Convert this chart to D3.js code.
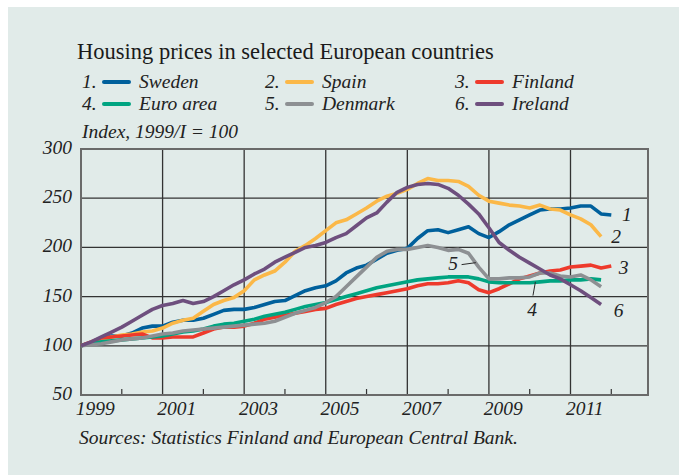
<!DOCTYPE html>
<html>
<head>
	<title> Housing prices </title>
	<script src="https://d3js.org/d3.v7.min.js"></script>
	<style>
		body { margin: 0; background: #ffffff; }
		svg text { font-family: "Liberation Serif", "DejaVu Serif", serif; fill: #222; }
	</style>
</head>
<body>
<script>

// quarterly index values, 1999/I = 100
var quartersFrom = 1999;

var sweden  = [100,103,106,110, 110,113,118,120, 120,124,126,126, 128,132,136,137, 137,139,142,145,
               146,151,156,159, 161,166,174,179, 182,188,194,197, 199,209,217,218, 215,218,221,214,
               210,216,223,228, 233,238,239,239, 240,242,242,234, 233];
var spain   = [100,103,106,109, 111,112,114,115, 118,123,126,128, 135,142,146,149, 156,167,172,176,
               185,196,202,209, 217,225,228,234, 240,247,252,255, 259,265,270,268, 268,267,262,253,
               247,245,243,242, 240,243,239,238, 233,229,223,211];
var finland = [100,104,108,109, 110,111,112,108, 108,109,109,109, 113,117,119,119, 120,123,127,129,
               131,133,135,137, 138,142,145,148, 150,152,154,156, 158,161,163,163, 164,166,164,157,
               154,158,163,168, 171,174,176,177, 180,181,182,179, 181];
var euro    = [100,102,104,105, 106,107,108,109, 110,112,114,115, 117,120,122,123, 125,127,130,132,
               134,137,140,142, 144,147,150,153, 156,159,161,163, 165,167,168,169, 170,170,170,168,
               165,164,164,164, 164,165,166,166, 167,167,168,167];
var denmark = [100,101,102,104, 106,107,108,110, 112,113,115,116, 117,118,119,120, 121,122,123,125,
               129,133,136,139, 144,150,160,170, 180,190,196,198, 198,200,202,200, 197,198,194,180,
               168,168,169,169, 170,174,174,171, 170,172,167,160];
var ireland = [100,104,109,114, 119,125,131,137, 141,143,146,143, 145,150,156,162, 167,173,178,185,
               190,195,200,202, 205,210,214,222, 230,235,246,256, 261,264,265,264, 260,253,244,234,
               220,205,197,190, 184,178,172,168, 162,156,149,142];

var names   = ["Sweden", "Spain", "Finland", "Euro area", "Denmark", "Ireland"];
var colours = ["#00609c", "#fbb848", "#ee3a2c", "#00a481", "#8d9093", "#6e4f7e"];
var series  = [sweden, spain, finland, euro, denmark, ireland];

var yTicks    = [50, 100, 150, 200, 250, 300];
var gridYears = [2001, 2003, 2005, 2007, 2009, 2011];
var tickYears = [2000, 2002, 2004, 2006, 2008, 2010, 2012];
var yearLabels = [1999, 2001, 2003, 2005, 2007, 2009, 2011];

// numbers next to the line ends: year, value
var endLabels = [
	{n: "1", t: 2012.38, v: 233},
	{n: "2", t: 2012.12, v: 211},
	{n: "3", t: 2012.30, v: 179},
	{n: "6", t: 2012.18, v: 135},
	{n: "4", t: 2010.06, v: 136},
	{n: "5", t: 2008.12, v: 183}
];
// leader lines for 4 and 5
var leaders = [
	{t1: 2010.14, v1: 165, t2: 2010.08, v2: 151},
	{t1: 2008.33, v1: 182.5, t2: 2008.68, v2: 184.5}
];

var svg = d3.select("body").append("svg")
	.attr("width", 679)
	.attr("height", 475);

// panel background
svg.append("rect")
	.attr("x", 8).attr("y", 7)
	.attr("width", 671).attr("height", 468)
	.attr("fill", "#e1ebe9");

var x = d3.scaleLinear().domain([1999, 2012.9]).range([81, 648]);
var y = d3.scaleLinear().domain([50, 300]).range([395, 149]);

var fs = "19.5px";

// title
svg.append("text")
	.attr("x", 77).attr("y", 59)
	.style("font-size", "22.5px")
	.style("fill", "#1a1a1a")
	.text("Housing prices in selected European countries");

// legend, two rows of three
var legend = svg.selectAll("g.legend")
	.data(names)
	.enter().append("g")
	.attr("class", "legend")
	.attr("transform", function (d, i) {
		var cols = [82, 265, 455];
		return "translate(" + cols[i % 3] + "," + (i < 3 ? 88 : 110) + ")";
	});

legend.append("text")
	.attr("x", 0).attr("y", 0)
	.style("font-size", fs).style("font-style", "italic")
	.text(function (d, i) { return (i + 1) + "."; });

legend.append("line")
	.attr("x1", 22).attr("x2", 47)
	.attr("y1", -6).attr("y2", -6)
	.attr("stroke", function (d, i) { return colours[i]; })
	.attr("stroke-width", 4)
	.attr("stroke-linecap", "round");

legend.append("text")
	.attr("x", 57).attr("y", 0)
	.style("font-size", fs).style("font-style", "italic")
	.text(function (d) { return d; });

svg.append("text")
	.attr("x", 82).attr("y", 138)
	.style("font-size", fs).style("font-style", "italic")
	.text("Index, 1999/I = 100");

// grid lines
svg.selectAll("line.hgrid")
	.data(yTicks.slice(1, -1))
	.enter().append("line")
	.attr("x1", x(1999)).attr("x2", x(2012.9))
	.attr("y1", function (d) { return y(d); })
	.attr("y2", function (d) { return y(d); })
	.attr("stroke", "#333")
	.attr("stroke-width", 1.3);

svg.selectAll("line.vgrid")
	.data(gridYears)
	.enter().append("line")
	.attr("x1", function (d) { return x(d); })
	.attr("x2", function (d) { return x(d); })
	.attr("y1", y(300)).attr("y2", y(50))
	.attr("stroke", "#333")
	.attr("stroke-width", 1.3);

// small ticks on the bottom axis
svg.selectAll("line.tick")
	.data(tickYears)
	.enter().append("line")
	.attr("x1", function (d) { return x(d); })
	.attr("x2", function (d) { return x(d); })
	.attr("y1", y(50)).attr("y2", y(50) - 6)
	.attr("stroke", "#333")
	.attr("stroke-width", 1.2);

// frame
svg.append("rect")
	.attr("x", x(1999)).attr("y", y(300))
	.attr("width", x(2012.9) - x(1999))
	.attr("height", y(50) - y(300))
	.attr("fill", "none")
	.attr("stroke", "#6a6a6a")
	.attr("stroke-width", 2);

// axis labels
svg.selectAll("text.ylab")
	.data(yTicks)
	.enter().append("text")
	.attr("x", 72)
	.attr("y", function (d) { return y(d) + 5; })
	.attr("text-anchor", "end")
	.style("font-size", fs).style("font-style", "italic")
	.text(function (d) { return d; });

svg.selectAll("text.xlab")
	.data(yearLabels)
	.enter().append("text")
	.attr("x", function (d) { return x(d + 0.35); })
	.attr("y", 415)
	.attr("text-anchor", "middle")
	.style("font-size", fs).style("font-style", "italic")
	.text(function (d) { return d; });

// the lines
var line = d3.line()
	.x(function (d, i) { return x(quartersFrom + i / 4); })
	.y(function (d) { return y(d); });

svg.selectAll("path.country")
	.data(series)
	.enter().append("path")
	.attr("d", line)
	.attr("fill", "none")
	.attr("stroke", function (d, i) { return colours[i]; })
	.attr("stroke-width", 3.6)
	.attr("stroke-linejoin", "round");

// numbers at the line ends
svg.selectAll("line.leader")
	.data(leaders)
	.enter().append("line")
	.attr("x1", function (d) { return x(d.t1); })
	.attr("y1", function (d) { return y(d.v1); })
	.attr("x2", function (d) { return x(d.t2); })
	.attr("y2", function (d) { return y(d.v2); })
	.attr("stroke", "#2a2a2a")
	.attr("stroke-width", 1);

svg.selectAll("text.endlab")
	.data(endLabels)
	.enter().append("text")
	.attr("x", function (d) { return x(d.t); })
	.attr("y", function (d) { return y(d.v) + 6; })
	.attr("text-anchor", "middle")
	.style("font-size", fs).style("font-style", "italic")
	.text(function (d) { return d.n; });

svg.append("text")
	.attr("x", 79).attr("y", 444)
	.style("font-size", fs).style("font-style", "italic")
	.text("Sources: Statistics Finland and European Central Bank.");

</script>
</body>
</html>
